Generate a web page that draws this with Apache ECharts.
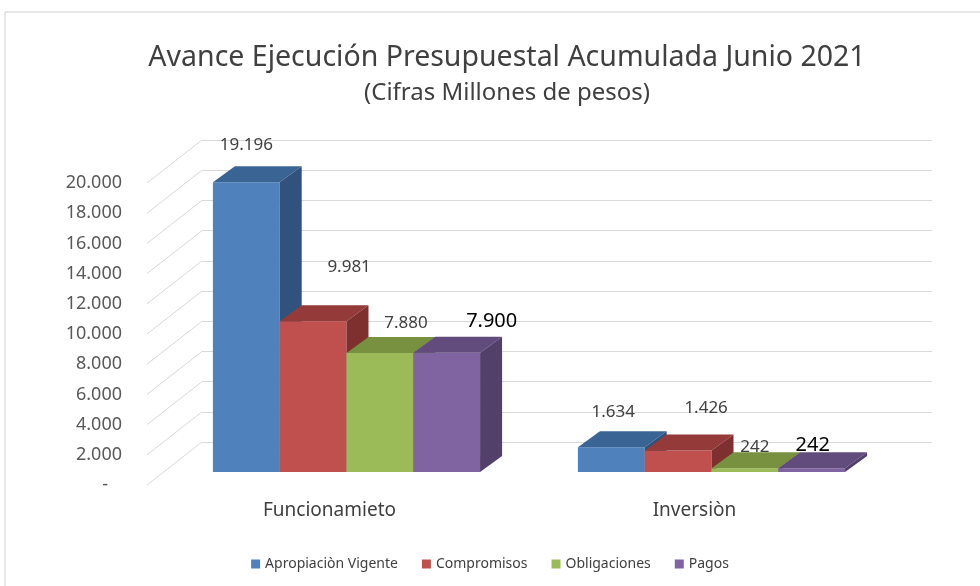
<!DOCTYPE html>
<html>
<head>
<meta charset="utf-8">
<script src="https://cdn.jsdelivr.net/npm/echarts@6/dist/echarts.min.js"></script>
<style>
  html, body { margin: 0; padding: 0; background: #fff; }
  #chart { width: 980px; height: 586px; }
</style>
</head>
<body>
<div id="chart"></div>
<script type="text/javascript">
// datos del grafico
var categorias = ['Funcionamieto', 'Inversiòn'];
var nombres = ['Apropiaciòn Vigente', 'Compromisos', 'Obligaciones', 'Pagos'];
var apropiacion = [19196, 1634];
var compromisos = [9981, 1426];
var obligaciones = [7880, 242];
var pagos = [7900, 242];
var yTicks = [0, 2000, 4000, 6000, 8000, 10000, 12000, 14000, 16000, 18000, 20000];

// estilo
var fuente = 'Noto Sans';
var colores = ['#4F81BD', '#C0504D', '#9BBB59', '#8064A2'];
var coloresTop = ['#3A6494', '#943B39', '#789140', '#624C7E'];
var coloresLado = ['#30527D', '#7D302E', '#667C36', '#523F6A'];
// desplazamiento de la etiqueta respecto al centro superior trasero de la barra
var labelShift = [
  [[-22, -21], [-20, -19]],
  [[14, -38], [6, -26]],
  [[4, -14], [-12, -5]],
  [[23, -15], [-21, -7]]
];
var depth = [22, 16];   // profundidad de la barra (dx, dy)

function fmt(v) {
  if (v === 0) return '-   ';
  return String(v).replace(/\B(?=(\d{3})+(?!\d))/g, '.');
}

var valores = [apropiacion, compromisos, obligaciones, pagos];

function barRender(i) {
  return function (params, api) {
    var cat = api.value(0), val = api.value(1);
    var base = api.coord([cat, 0]);
    var top = api.coord([cat, val]);
    var band = api.size([1, 0])[0];
    var bw = band * 0.183;
    var x0 = base[0] - 2 * bw + i * bw;
    var x1 = x0 + bw;
    var yt = top[1], yb = base[1];
    var dx = depth[0], dy = depth[1];
    var sh = labelShift[i][cat];
    return {
      type: 'group',
      children: [
        { type: 'rect', shape: { x: x0, y: yt, width: bw, height: yb - yt },
          style: { fill: colores[i] } },
        { type: 'polygon', shape: { points: [[x0, yt], [x1, yt], [x1 + dx, yt - dy], [x0 + dx, yt - dy]] },
          style: { fill: coloresTop[i] } },
        { type: 'polygon', shape: { points: [[x1, yt], [x1 + dx, yt - dy], [x1 + dx, yb - dy], [x1, yb]] },
          style: { fill: coloresLado[i] } },
        { type: 'text', x: x0 + bw / 2 + dx + sh[0], y: yt - dy + sh[1],
          style: { text: fmt(val), align: 'center', verticalAlign: 'middle',
                   font: (i === 3 ? '20px ' : '17px ') + fuente,
                   fill: i === 3 ? '#000000' : '#404040' } }
      ]
    };
  };
}

var chart = echarts.init(document.getElementById('chart'));

var series = [];
// lineas diagonales de la pared izquierda
series.push({
  type: 'custom',
  xAxisIndex: 0, yAxisIndex: 0,
  silent: true,
  data: yTicks.map(function (t) { return [0, t]; }),
  renderItem: function (params, api) {
    var x = params.coordSys.x;
    var y = api.coord([0, api.value(1)])[1];
    return { type: 'line', shape: { x1: x, y1: y, x2: x + 55, y2: y - 43 },
             style: { stroke: '#d9d9d9', lineWidth: 1 } };
  }
});
valores.forEach(function (arr, i) {
  series.push({
    name: nombres[i],
    type: 'custom',
    xAxisIndex: 2, yAxisIndex: 2,
    itemStyle: { color: colores[i] },
    data: arr.map(function (v, c) { return [c, v]; }),
    renderItem: barRender(i)
  });
});

var option = {
  backgroundColor: '#ffffff',
  animation: false,
  textStyle: { fontFamily: fuente },
  title: {
    text: 'Avance Ejecución Presupuestal Acumulada Junio 2021',
    subtext: '(Cifras Millones de pesos)',
    left: 502,
    textAlign: 'center',
    top: 38,
    itemGap: 9,
    textStyle: { fontFamily: fuente, fontSize: 28.5, fontWeight: 'normal', color: '#404040' },
    subtextStyle: { fontFamily: fuente, fontSize: 24, color: '#404040' }
  },
  legend: {
    data: nombres,
    left: 'center',
    top: 552,
    icon: 'rect',
    itemWidth: 9,
    itemHeight: 9,
    itemGap: 24,
    textStyle: { fontFamily: fuente, fontSize: 14, color: '#404040' }
  },
  graphic: [{
    type: 'rect', shape: { x: 5, y: 12, width: 1000, height: 600 },
    style: { fill: 'none', stroke: '#d0d0d0', lineWidth: 1 }, silent: true
  }],
  grid: [
    { left: 147, right: 103, top: 183, bottom: 101 },   // frente del piso (etiquetas)
    { left: 202, right: 48, top: 140, bottom: 144 },    // pared del fondo
    { left: 164, right: 86, top: 170, bottom: 114 }     // frente de las barras
  ],
  xAxis: [
    { type: 'category', gridIndex: 0, data: categorias,
      axisLine: { show: false }, axisTick: { show: false },
      axisLabel: { fontFamily: fuente, fontSize: 19, color: '#404040', margin: 16 } },
    { type: 'category', gridIndex: 1, data: categorias, show: false },
    { type: 'category', gridIndex: 2, data: categorias, show: false }
  ],
  yAxis: [
    { type: 'value', gridIndex: 0, min: 0, max: 20000, interval: 2000,
      splitLine: { show: false }, axisLine: { show: false }, axisTick: { show: false },
      axisLabel: { fontFamily: fuente, fontSize: 18, color: '#595959', margin: 25, formatter: fmt } },
    { type: 'value', gridIndex: 1, min: 0, max: 20000, interval: 2000,
      axisLine: { show: false }, axisTick: { show: false }, axisLabel: { show: false },
      splitLine: { lineStyle: { color: '#d9d9d9', width: 1 } } },
    { type: 'value', gridIndex: 2, min: 0, max: 20000, interval: 2000, show: false }
  ],
  series: series
};

chart.setOption(option);
</script>
</body>
</html>
